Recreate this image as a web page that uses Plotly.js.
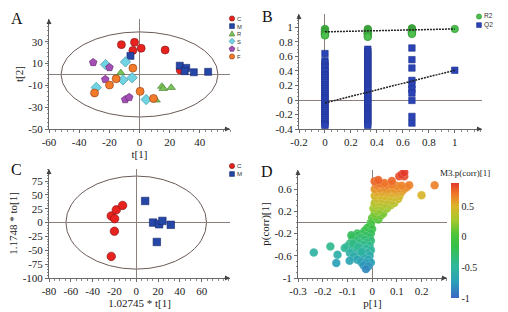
<!DOCTYPE html>
<html><head><meta charset="utf-8">
<script src="https://cdn.plot.ly/plotly-3.0.1.min.js"></script>
<style>html,body{margin:0;padding:0;background:#fff}#plot{width:508px;height:312px}</style>
</head><body><div id="plot"></div>
<script>
// ---------- Panel A (PCA scores) ----------
const groupNames = ['C','M','R','S','L','F'];
const aC_x = [-12, -3.3, -4.4, 1.1, 17, 27];
const aC_y = [27.3, 29.4, 22, 24, 22.4, 4];
const aM_x = [-6, 26.7, 31, 30, 36, 45.5];
const aM_y = [17, 8, 6, 3, 2, 2.4];
const aR_x = [-12.4, 14.8, 15.7, 21, 11];
const aR_y = [1.5, -11, -13, -12, -23.6];
const aS_x = [-22.5, -9.3, -11, -4.9, -28.7, 4.4];
const aS_y = [9, 11.5, -5, -3, -12, -23];
const aL_x = [-30.7, -19.9, -22.7, -9.5, -6.8];
const aL_y = [11, 6.4, -4.5, -23, -21];
const aF_x = [-4.4, -15.5, -19.9, -29.8, 0.4, 9.3];
const aF_y = [5.8, -4, -9.7, -17, -15.5, -22];
const ellipseA = [52, 39];
const aXticks = [-60, -40, -20, 0, 20, 40];
const aYticks = [-50, -30, -10, 10, 30];

// ---------- Panel B (permutation test) ----------
const permNames = ['R2', 'Q2'];
const permX = [0, 0.33, 0.67, 1];
const r2Cols = [
  [0.98, 0.97, 0.95, 0.94, 0.93, 0.92, 0.91, 0.90, 0.89],
  [0.98, 0.97, 0.96, 0.95, 0.94, 0.93, 0.92, 0.91, 0.90, 0.88, 0.87],
  [0.99, 0.98, 0.97, 0.96, 0.95, 0.94, 0.93, 0.92, 0.91],
  [0.98]
];
const q2Cols = [
  [0.64, 0.54, 0.51, 0.47, 0.45, 0.41, 0.39, 0.35, 0.33, 0.30, 0.27, 0.24, 0.21, 0.18, 0.15, 0.12, 0.09, 0.06, 0.03, 0.01, -0.03, -0.06, -0.09, -0.12, -0.15, -0.18, -0.21, -0.24, -0.27, -0.30, -0.33, -0.35],
  [0.70, 0.67, 0.64, 0.61, 0.58, 0.55, 0.52, 0.49, 0.46, 0.43, 0.40, 0.37, 0.34, 0.31, 0.28, 0.25, 0.22, 0.19, 0.16, 0.13, 0.10, 0.07, 0.04, 0.01, -0.02, -0.05, -0.08, -0.11, -0.14, -0.17, -0.20, -0.23, -0.26, -0.29, -0.32, -0.35],
  [0.717, 0.556, 0.441, 0.27, 0.21, 0.15, 0.096, -0.006, -0.227, -0.318],
  [0.41]
];
const fitX = [0, 1];
const r2Fit = [0.94, 0.98];
const q2Fit = [-0.04, 0.41];
const bXticks = [-0.2, 0, 0.2, 0.4, 0.6, 0.8, 1];
const bYticks = [-0.4, -0.2, 0, 0.2, 0.4, 0.6, 0.8, 1];

// ---------- Panel C (OPLS-DA scores) ----------
const cNames = ['C', 'M'];
const cC_x = [-22.9, -18.3, -12.5, -19.8, -20, -22.9];
const cC_y = [12, 23, 31, 7, -15.6, -61];
const cM_x = [8.2, 15.5, 21, 24, 31.7, 18.9];
const cM_y = [39, 0, -3, 3, -4, -35];
const ellipseC = [64.5, 84];
const cXticks = [-80, -60, -40, -20, 0, 20, 40, 60];
const cYticks = [-100, -75, -50, -25, 0, 25, 50, 75];

// ---------- Panel D (S-plot) ----------
const dX = [-0.005,0.000,0.005,0.025,0.015,0.035,0.010,0.045,0.020,0.030,0.005,0.060,0.040,0.015,0.075,0.050,0.010,0.030,0.090,0.080,0.060,0.020,0.040,0.105,0.090,0.070,0.050,0.030,0.010,0.110,0.100,0.080,0.060,0.020,0.040,0.120,0.095,0.055,0.010,0.070,0.090,0.030,0.110,0.130,0.050,0.140,0.100,0.120,0.060,0.020,0.150,0.040,0.080,0.030,0.050,0.010,0.080,0.025,0.110,0.130,0.120,0.130,0.200,0.253,
 -0.005,-0.010,-0.020,0.000,-0.030,-0.015,-0.005,-0.040,-0.060,-0.025,-0.060,-0.010,-0.045,-0.080,-0.030,-0.065,-0.005,-0.020,-0.050,-0.090,-0.035,-0.070,-0.010,-0.100,-0.050,-0.111,-0.025,-0.080,-0.005,-0.040,-0.065,-0.020,-0.090,-0.050,-0.010,-0.075,-0.035,-0.060,-0.015,-0.045,-0.005,-0.025,-0.035,-0.015,-0.025,-0.169,-0.236,-0.140,-0.145,-0.091,-0.084,-0.077,-0.057,-0.043];
const dY = [0.00,0.08,0.05,0.05,0.10,0.12,0.15,0.16,0.20,0.22,0.25,0.25,0.28,0.30,0.31,0.33,0.35,0.36,0.35,0.38,0.40,0.42,0.42,0.42,0.45,0.46,0.47,0.48,0.48,0.47,0.52,0.52,0.53,0.54,0.55,0.55,0.56,0.58,0.60,0.60,0.60,0.61,0.61,0.60,0.62,0.63,0.66,0.66,0.67,0.67,0.67,0.68,0.68,0.70,0.71,0.74,0.745,0.76,0.83,0.83,0.86,0.90,0.49,0.667,
 -0.03,-0.08,-0.10,-0.12,-0.15,-0.18,-0.20,-0.20,-0.20,-0.24,-0.24,-0.27,-0.28,-0.28,-0.31,-0.32,-0.33,-0.36,-0.37,-0.38,-0.40,-0.41,-0.42,-0.43,-0.45,-0.46,-0.47,-0.48,-0.50,-0.51,-0.53,-0.55,-0.55,-0.58,-0.60,-0.61,-0.63,-0.67,-0.67,-0.71,-0.72,-0.73,-0.77,-0.79,-0.84,-0.435,-0.543,-0.58,-0.73,-0.69,-0.23,-0.38,-0.44,-0.53];
const dXticks = [-0.3, -0.2, -0.1, 0, 0.1, 0.2];
const dYticks = [-1, -0.6, -0.2, 0.2, 0.6];
const cbTicks = [-1, -0.5, 0, 0.5];

// ---------- helpers ----------
const W = 508, H = 312;
const px = v => v / W, py = v => 1 - v / H;
const SERIF = 'Liberation Serif, Times New Roman, serif';
const tickFont = {family: SERIF, size: 11, color: '#1a1a1a'};
const lab = arr => arr.map(v => String(v));

function axis(domain, range, tickvals, minorDtick, extra) {
  return Object.assign({
    domain: domain, range: range, tickvals: tickvals, ticktext: lab(tickvals),
    showgrid: false, zeroline: true, zerolinecolor: '#8a807c', zerolinewidth: 1,
    showline: true, linecolor: '#6a6a6a', linewidth: 1,
    ticks: 'outside', ticklen: 3, tickcolor: '#6a6a6a', tickwidth: 1,
    minor: {ticks: 'outside', ticklen: 1.5, tickcolor: '#8a8a8a', dtick: minorDtick, showgrid: false},
    tickfont: tickFont, fixedrange: true
  }, extra || {});
}

const STY = {
  C: {color: '#e8231f', line: '#7a1010', symbol: 'circle'},
  M: {color: '#2447a8', line: '#18276a', symbol: 'square'},
  R: {color: '#7cc25a', line: '#3f7a2a', symbol: 'triangle-up'},
  S: {color: '#6fd3e3', line: '#3a8a9a', symbol: 'diamond'},
  L: {color: '#a34fb5', line: '#5a2266', symbol: 'pentagon'},
  F: {color: '#f27a2a', line: '#8a3a10', symbol: 'circle'},
  R2: {color: '#4cbf4c', line: '#2f8f2f', symbol: 'circle'},
  Q2: {color: '#2b44b5', line: '#1f3290', symbol: 'square'}
};
function mk(key, size) {
  const s = STY[key];
  return {color: s.color, symbol: s.symbol, size: size, line: {color: s.line, width: 0.6}};
}

const traces = [];
// Panel A
const aSets = [[aC_x, aC_y, 8], [aM_x, aM_y, 7], [aR_x, aR_y, 7.5], [aS_x, aS_y, 8], [aL_x, aL_y, 8], [aF_x, aF_y, 8]];
aSets.forEach((s, i) => traces.push({type: 'scatter', mode: 'markers', name: groupNames[i], x: s[0], y: s[1],
  marker: mk(groupNames[i], s[2]), xaxis: 'x', yaxis: 'y', showlegend: false}));

// Panel B
const r2X = [], r2Y = [], q2X = [], q2Y = [];
r2Cols.forEach((col, i) => col.forEach(v => { r2X.push(permX[i]); r2Y.push(v); }));
q2Cols.forEach((col, i) => col.forEach(v => { q2X.push(permX[i]); q2Y.push(v); }));
traces.push({type: 'scatter', mode: 'markers', name: 'Q2', x: q2X, y: q2Y, xaxis: 'x2', yaxis: 'y2', showlegend: false, marker: mk('Q2', 6.5)});
traces.push({type: 'scatter', mode: 'markers', name: 'R2', x: r2X, y: r2Y, xaxis: 'x2', yaxis: 'y2', showlegend: false, marker: mk('R2', 7.5)});
traces.push({type: 'scatter', mode: 'lines', x: fitX, y: r2Fit, xaxis: 'x2', yaxis: 'y2', showlegend: false,
  line: {color: '#222', width: 1.5, dash: '2px,1px'}});
traces.push({type: 'scatter', mode: 'lines', x: fitX, y: q2Fit, xaxis: 'x2', yaxis: 'y2', showlegend: false,
  line: {color: '#222', width: 1.5, dash: '2px,1px'}});

// Panel C
traces.push({type: 'scatter', mode: 'markers', name: 'C', x: cC_x, y: cC_y, xaxis: 'x3', yaxis: 'y3', showlegend: false, marker: mk('C', 8.5)});
traces.push({type: 'scatter', mode: 'markers', name: 'M', x: cM_x, y: cM_y, xaxis: 'x3', yaxis: 'y3', showlegend: false, marker: mk('M', 7.5)});

// Panel D
traces.push({type: 'scatter', mode: 'markers', x: dX, y: dY, xaxis: 'x4', yaxis: 'y4', showlegend: false,
  marker: {size: 8.5, color: dY, cmin: -1, cmax: 0.88, opacity: 0.92,
    line: {color: 'rgba(255,255,255,0.35)', width: 0.5},
    colorscale: [[0, '#3a66c4'], [0.14, '#2aa0b8'], [0.28, '#2fb89a'], [0.45, '#36c04a'], [0.55, '#4cc43a'],
                 [0.68, '#a6c82e'], [0.8, '#dcb42a'], [0.9, '#f07a28'], [1, '#e4392a']],
    showscale: true,
    colorbar: {x: px(451), xanchor: 'left', y: py(240.5), yanchor: 'middle', len: 115, lenmode: 'pixels',
      thickness: 8, thicknessmode: 'pixels', tickvals: cbTicks, ticktext: lab(cbTicks), ticks: '',
      tickfont: {family: SERIF, size: 10, color: '#222'}, outlinewidth: 0, xpad: 0, ypad: 0}
  }});

const titleFont = {family: SERIF, size: 11, color: '#222'};
const layout = {
  width: W, height: H, margin: {l: 0, r: 0, t: 0, b: 0},
  paper_bgcolor: '#fff', plot_bgcolor: '#fff', showlegend: false,
  xaxis: axis([px(49), px(230)], [-60, 60], aXticks, 4, {title: {text: 't[1]', font: titleFont, standoff: 2}}),
  yaxis: axis([py(129), py(19)], [-50, 50.8], aYticks, 4, {title: {text: 't[2]', font: titleFont, standoff: 2}}),
  xaxis2: axis([px(299), px(482)], [-0.2, 1.21], bXticks, 0.05, {anchor: 'y2'}),
  yaxis2: axis([py(129), py(14)], [-0.4, 1.186], bYticks, 0.05, {anchor: 'x2'}),
  xaxis3: axis([px(49), px(230)], [-80, 86], cXticks, 5, {anchor: 'y3', title: {text: '1.02745 * t[1]', font: titleFont, standoff: 2}}),
  yaxis3: axis([py(278), py(169)], [-100, 96.7], cYticks, 5, {anchor: 'x3', title: {text: '1.1748 * to[1]', font: titleFont, standoff: 2}}),
  xaxis4: axis([px(298), px(447)], [-0.3, 0.303], dXticks, 0.02, {anchor: 'y4', title: {text: 'p[1]', font: titleFont, standoff: 2}}),
  yaxis4: axis([py(278), py(170)], [-1, 0.942], dYticks, 0.1, {anchor: 'x4', title: {text: 'p(corr)[1]', font: titleFont, standoff: 2}}),
  shapes: [
    {type: 'circle', xref: 'x', yref: 'y', x0: -ellipseA[0], x1: ellipseA[0], y0: -ellipseA[1], y1: ellipseA[1], line: {color: '#6b5b57', width: 1}, layer: 'below'},
    {type: 'circle', xref: 'x3', yref: 'y3', x0: -ellipseC[0], x1: ellipseC[0], y0: -ellipseC[1], y1: ellipseC[1], line: {color: '#6b5b57', width: 1}, layer: 'below'}
  ],
  annotations: []
};

const ann = layout.annotations;
// panel letters
[['A', 17, 18], ['B', 267, 16], ['C', 16, 169], ['D', 267, 171]].forEach(p => ann.push({
  text: p[0], xref: 'paper', yref: 'paper', x: px(p[1]), y: py(p[2]), xanchor: 'center', yanchor: 'middle',
  showarrow: false, font: {family: SERIF, size: 16, color: '#111'}}));
// axis arrowheads
[['x', 'y'], ['x2', 'y2'], ['x3', 'y3'], ['x4', 'y4']].forEach(a => {
  ann.push({xref: a[0] + ' domain', yref: a[1] + ' domain', x: 0, y: 1, ax: 0, ay: 7, text: '', showarrow: true,
    arrowhead: 2, arrowsize: 1, arrowwidth: 1, arrowcolor: '#444'});
  ann.push({xref: a[0] + ' domain', yref: a[1] + ' domain', x: 1, y: 0, ax: -7, ay: 0, text: '', showarrow: true,
    arrowhead: 2, arrowsize: 1, arrowwidth: 1, arrowcolor: '#444'});
});

// legends: small pixel-sized symbol shapes + one multi-line label annotation per panel
const SYM_PATH = {
  'circle': null, 'square': null,
  'triangle-up': 'M-2.8,-2.3 L2.8,-2.3 L0,2.8 Z',
  'diamond': 'M0,-3 L3,0 L0,3 L-3,0 Z',
  'pentagon': 'M0,2.9 L2.8,0.9 L1.7,-2.4 L-1.7,-2.4 L-2.8,0.9 Z'
};
function legendSymbol(key, xPix, yPix) {
  const s = STY[key];
  const base = {xref: 'paper', yref: 'paper', xsizemode: 'pixel', ysizemode: 'pixel', xanchor: px(xPix), yanchor: py(yPix),
    fillcolor: s.color, line: {color: s.line, width: 0.6}, layer: 'above'};
  if (s.symbol === 'circle') Object.assign(base, {type: 'circle', x0: -2.6, x1: 2.6, y0: -2.6, y1: 2.6});
  else if (s.symbol === 'square') Object.assign(base, {type: 'rect', x0: -2.4, x1: 2.4, y0: -2.4, y1: 2.4});
  else Object.assign(base, {type: 'path', path: SYM_PATH[s.symbol]});
  layout.shapes.push(base);
}
function legend(keys, x, yFirst, step) {
  keys.forEach((k, i) => legendSymbol(k, x, yFirst + i * step));
  const size = step / 1.3;
  ann.push({text: keys.join('<br>'), xref: 'paper', yref: 'paper', x: px(x + 3.5),
    y: py(yFirst + (keys.length - 1) * step / 2), xanchor: 'left', yanchor: 'middle',
    align: 'left', showarrow: false, borderpad: 0,
    font: {family: 'Liberation Sans, Arial, sans-serif', size: size, color: '#333'}});
}
legend(groupNames, 232, 18.5, 7.6);
legend(permNames, 479, 16.5, 8.6);
legend(cNames, 232, 166, 8);

// colorbar title
ann.push({text: 'M3.p(corr)[1]', xref: 'paper', yref: 'paper', x: px(465), y: py(173), xanchor: 'center', yanchor: 'middle',
  showarrow: false, font: {family: SERIF, size: 9, color: '#222'}});

Plotly.newPlot('plot', traces, layout, {staticPlot: true, displayModeBar: false});
</script></body></html>
